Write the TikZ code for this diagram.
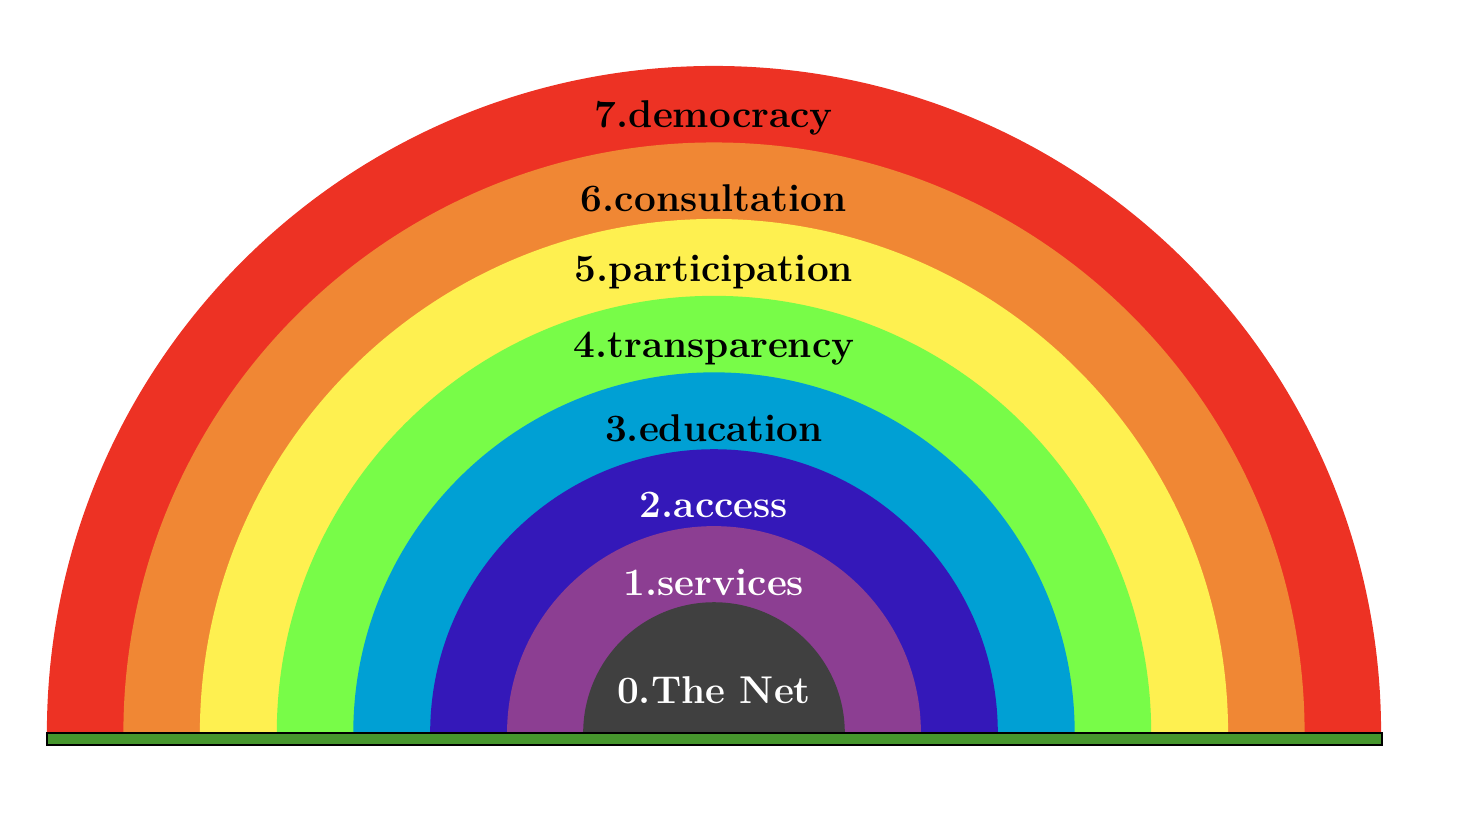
\documentclass[tikz,border=0pt]{standalone}
\usepackage{xcolor}
\definecolor{rbred}{RGB}{237,50,36}
\definecolor{rborange}{RGB}{240,135,52}
\definecolor{rbyellow}{RGB}{254,240,80}
\definecolor{rbgreen}{RGB}{120,252,72}
\definecolor{rbblue}{RGB}{0,160,212}
\definecolor{rbindigo}{RGB}{52,24,185}
\definecolor{rbviolet}{RGB}{140,62,146}
\definecolor{rbgray}{RGB}{64,64,64}
\definecolor{rbground}{RGB}{70,150,45}
\usetikzlibrary{arrows.meta,positioning}

\begin{document}
\begin{tikzpicture}[>=Stealth,
  lvl/.style={font=\Large\bfseries,inner sep=1pt}]
  \useasboundingbox (-9.333,-1.033) rectangle (9.882,9.582);
  %% Bands, outermost first
  \fill[rbred]    (-8.72,0) arc[start angle=180,end angle=0,radius=8.72] -- cycle;
  \fill[rborange] (-7.72,0) arc[start angle=180,end angle=0,radius=7.72] -- cycle;
  \fill[rbyellow] (-6.72,0) arc[start angle=180,end angle=0,radius=6.72] -- cycle;
  \fill[rbgreen]  (-5.715,0) arc[start angle=180,end angle=0,radius=5.715] -- cycle;
  \fill[rbblue]   (-4.715,0) arc[start angle=180,end angle=0,radius=4.715] -- cycle;
  \fill[rbindigo] (-3.71,0) arc[start angle=180,end angle=0,radius=3.71] -- cycle;
  \fill[rbviolet] (-2.705,0) arc[start angle=180,end angle=0,radius=2.705] -- cycle;
  \fill[rbgray]   (-1.71,0) arc[start angle=180,end angle=0,radius=1.71] -- cycle;
  %% Ground
  \draw[thick,fill=rbground] (-8.72,0) rectangle (8.73,-0.16);
  %% Labels
  \node[lvl,white] (net)   at (0,0.56) {0.The Net};
  \node[lvl,white] (serv)  at (0,1.97) {1.services};
  \node[lvl,white] (acc)   at (0,2.98) {2.access};
  \node[lvl]       (edu)   at (0,3.99) {3.education};
  \node[lvl]       (trans) at (0,5.02) {4.transparency};
  \node[lvl]       (part)  at (0,6.03) {5.participation};
  \node[lvl]       (cons)  at (0,6.99) {6.consultation};
  \node[lvl]       (demo)  at (0,8.04) {7.democracy};
\end{tikzpicture}
\end{document}
